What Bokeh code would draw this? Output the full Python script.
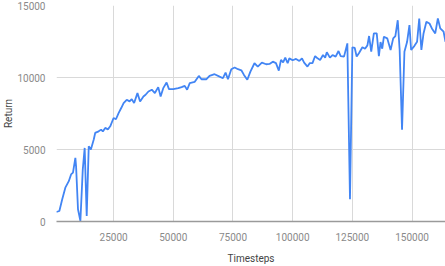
from bokeh.plotting import figure
from bokeh.models import Range1d, FixedTicker, BasicTickFormatter
from bokeh.embed import file_html
from bokeh.resources import INLINE

timesteps = [1000, 2300, 3500, 4800, 6250, 7200, 8000, 9000, 9300, 10100, 11100, 12100, 12900, 13750, 14600,
             15500, 16700, 17300, 18750, 19800, 20500, 21500, 22600, 23600, 25000, 26000, 27100, 28200, 29200,
             30500, 31700, 32600, 33600, 35000, 36100, 37500, 38400, 39600, 41000, 42300, 43700, 44700, 45800,
             47200, 48200, 50000, 52100, 53500, 54800, 55800, 56900, 59000, 60700, 61800, 63900, 65200, 67300,
             69400, 70800, 71900, 72900, 74300, 75700, 77100, 78500, 79600, 81000, 82300, 84000, 85400, 87100,
             88900, 90300, 91700, 93000, 94200, 95100, 96000, 96900, 97900, 98600, 100000, 101400, 102800,
             103900, 104800, 106200, 107200, 108300, 109400, 110400, 111500, 112700, 113600, 114300, 115600,
             116700, 118000, 119200, 120100, 121500, 122900, 124000, 125000, 126000, 126800, 127800, 129200,
             130300, 131300, 132000, 132900, 134000, 135200, 136100, 136800, 137500, 138200, 139600, 141000,
             142100, 143000, 144000, 144800, 145800, 146800, 147900, 148900, 149600, 151000, 152100, 153000,
             153900, 154800, 156000, 157300, 158300, 159700, 160800, 161800, 163200, 164000]
returns = [660, 730, 1540, 2350, 2800, 3270, 3390, 4420, 3840, 850, 40, 3600, 5110, 390, 5230,
           5000, 5690, 6150, 6260, 6380, 6250, 6500, 6400, 6610, 7190, 7100, 7530, 7880, 8225,
           8450, 8340, 8500, 8225, 8915, 8340, 8680, 8800, 9030, 9150, 8920, 9330, 8680, 9260,
           9650, 9190, 9190, 9260, 9330, 9420, 9150, 9610, 9700, 10110, 9880, 9880, 10110, 10230,
           10060, 9950, 10340, 9880, 10575, 10690, 10575, 10500, 10180, 9840, 10410, 10990, 10760, 11030,
           10920, 10940, 11100, 11000, 10480, 11220, 11050, 11380, 10990, 11330, 11200, 11290, 11150,
           11330, 11030, 10760, 11000, 11000, 11490, 11330, 11220, 11560, 11380, 11750, 11380,
           11560, 11450, 11840, 11490, 11450, 12370, 1540, 12100, 12050, 11450, 11700, 12100,
           12000, 12230, 12880, 11790, 13060, 13060, 11490, 12460, 12000, 12830, 12720, 11910,
           12720, 12880, 13980, 11910, 6380, 11790, 12460, 13640, 11910, 12200, 12480, 14100,
           11910, 13060, 13870, 13750, 13410, 13060, 14100, 13410, 13180, 12480]

x_ticks = [25000, 50000, 75000, 100000, 125000, 150000]
y_ticks = [0, 5000, 10000, 15000]

p = figure(width=445, height=266, output_backend="svg", toolbar_location=None,
           x_range=Range1d(1100, 164000), y_range=Range1d(0, 15000),
           min_border_left=54, min_border_right=0, min_border_top=5, min_border_bottom=44)
p.outline_line_color = None

p.line(timesteps, returns, line_color="#4285f4", line_width=1.8)

for ax in (p.xaxis[0], p.yaxis[0]):
    ax.major_tick_line_color = None
    ax.minor_tick_line_color = None
    ax.major_label_text_font = "Roboto"
    ax.major_label_text_font_size = "10px"
    ax.major_label_text_color = "#8a8a8a"
    ax.axis_label_text_font = "Roboto"
    ax.axis_label_text_font_size = "10px"
    ax.axis_label_text_font_style = "normal"
    ax.axis_label_text_color = "#444444"
    ax.formatter = BasicTickFormatter(use_scientific=False)

p.xaxis.ticker = FixedTicker(ticks=x_ticks)
p.yaxis.ticker = FixedTicker(ticks=y_ticks)
p.xaxis.axis_label = "Timesteps"
p.yaxis.axis_label = "Return"
p.xaxis.axis_line_color = "#9a9a9a"
p.xaxis.axis_line_width = 1.5
p.yaxis.axis_line_color = None
p.xaxis.major_label_standoff = 5
p.xaxis.axis_label_standoff = 9
p.yaxis.major_label_standoff = 5
p.yaxis.axis_label_standoff = 0

p.xgrid.ticker = FixedTicker(ticks=x_ticks)
p.ygrid.ticker = FixedTicker(ticks=y_ticks)
p.xgrid.grid_line_color = "#d9d9d9"
p.ygrid.grid_line_color = "#d9d9d9"

open("out.html", "w").write(file_html(p, INLINE))
